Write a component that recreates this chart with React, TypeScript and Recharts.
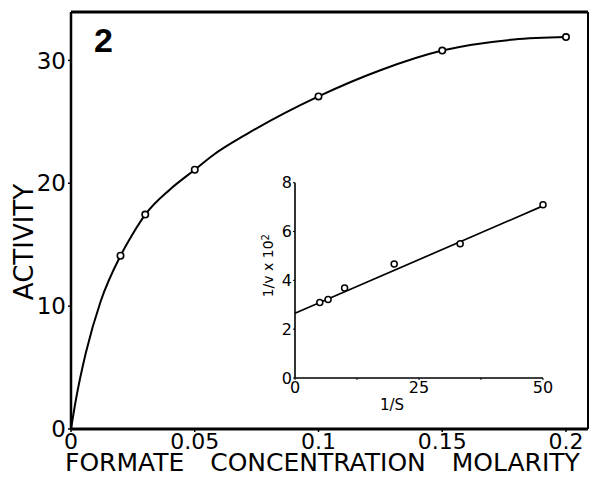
import React from 'react';
import {ComposedChart, Label, Line, ReferenceLine, Scatter, XAxis, YAxis} from 'recharts';

// main plot: activity vs formate concentration
const concentration = [0.02, 0.03, 0.05, 0.1, 0.15, 0.2];
const activity = [14.1, 17.45, 21.1, 27.07, 30.8, 31.9];

// the hand drawn curve
const curveX = [0, 0.002, 0.006, 0.012, 0.02, 0.025, 0.03, 0.04, 0.05, 0.0575, 0.071, 0.1, 0.125, 0.15, 0.179, 0.2];
const curveY = [0, 2.4, 6.2, 10.4, 14.1, 15.9, 17.45, 19.5, 21.1, 22.3, 24.0, 27.07, 29.2, 30.8, 31.7, 31.9];

const mainXTicks = [0, 0.05, 0.1, 0.15, 0.2];
const mainYTicks = [0, 10, 20, 30];

// inset: double reciprocal plot
const inverseS = [5, 6.67, 10, 20, 33.3, 50];
const inverseV = [3.09, 3.22, 3.69, 4.67, 5.5, 7.1];
const fitX = [0, 50];
const fitY = [2.65, 7.05];

const insetXTicks = [0, 12.5, 25, 37.5, 50];
const insetYTicks = [0, 2, 4, 6, 8];

const X_MAX = 0.2089;
const Y_MAX = 33.94;

const font = '"DejaVu Sans", sans-serif';

const points = concentration.map((x, i) => ({x, y: activity[i]}));
const curve = curveX.map((x, i) => ({x, y: curveY[i]}));
const insetPoints = inverseS.map((x, i) => ({x, y: inverseV[i]}));
const fit = fitX.map((x, i) => ({x, y: fitY[i]}));

const OpenCircle = (r: number, w: number) => (props: any) => (
    <circle cx={props.cx} cy={props.cy} r={r} fill="#fff" stroke="#000" strokeWidth={w}/>
);

const MainXLabel = (props: any) => {
    const vb = props.viewBox;
    return (
        <text x={vb.x - 6} y={vb.y + 42} fontSize={25} fontFamily={font} fill="#000" wordSpacing={18}>
            FORMATE CONCENTRATION MOLARITY
        </text>
    );
};

const MainYLabel = (props: any) => {
    const vb = props.viewBox;
    const x = vb.x + 33;
    const y = vb.y + 230;
    return (
        <text x={x} y={y} transform={`rotate(-90 ${x} ${y})`} textAnchor="middle" fontSize={26}
              fontFamily={font} fill="#000">
            ACTIVITY
        </text>
    );
};

const InsetXLabel = (props: any) => {
    const vb = props.viewBox;
    return (
        <text x={vb.x + 97} y={vb.y + 32} textAnchor="middle" fontSize={15} fontFamily={font} fill="#000">
            1/S
        </text>
    );
};

const InsetYLabel = (props: any) => {
    const vb = props.viewBox;
    const x = vb.x + 43;
    const y = vb.y + 83;
    return (
        <text x={x} y={y} transform={`rotate(-90 ${x} ${y})`} textAnchor="middle" fontSize={14}
              fontFamily={font} fill="#000">
            1/v x 10<tspan dy={-4} fontSize={10}>2</tspan>
        </text>
    );
};

const App: React.FC = () => {
    return (
        <div style={{position: 'absolute', left: 0, top: 0, width: 590, height: 477, background: '#fff'}}>
            <ComposedChart width={590} height={477} margin={{top: 12, right: 2, bottom: 0, left: 0}}>
                <XAxis type="number" dataKey="x" domain={[0, X_MAX]} ticks={mainXTicks}
                       tickFormatter={(v: number) => String(v)} height={48}
                       axisLine={{stroke: '#000', strokeWidth: 3}} tickLine={{stroke: '#000', strokeWidth: 1.5}}
                       tickSize={3} tickMargin={1} tick={{fill: '#000', fontSize: 22, fontFamily: font}}>
                    <Label content={MainXLabel}/>
                </XAxis>
                <YAxis type="number" dataKey="y" domain={[0, Y_MAX]} ticks={mainYTicks}
                       width={71} axisLine={{stroke: '#000', strokeWidth: 2.5}}
                       tickLine={{stroke: '#000', strokeWidth: 1.5}} tickSize={3} tickMargin={2}
                       tick={{fill: '#000', fontSize: 23, fontFamily: font}}>
                    <Label content={MainYLabel}/>
                </YAxis>
                <ReferenceLine y={Y_MAX} stroke="#000" strokeWidth={3}/>
                <ReferenceLine x={X_MAX} stroke="#000" strokeWidth={2}/>
                <Line data={curve} dataKey="y" type="monotone" stroke="#000" strokeWidth={2} dot={false}
                      isAnimationActive={false}/>
                <Scatter data={points} dataKey="y" shape={OpenCircle(3.2, 1.6)} isAnimationActive={false}/>
            </ComposedChart>

            <svg width={590} height={477} style={{position: 'absolute', left: 0, top: 0, pointerEvents: 'none'}}>
                <text x={94} y={51.5} fontSize={34} fontWeight="bold" fontFamily='"Liberation Sans", sans-serif'
                      fill="#000">2</text>
            </svg>

            <div style={{position: 'absolute', left: 230, top: 170}}>
                <ComposedChart width={330} height={250} margin={{top: 12.7, right: 17, bottom: 0, left: 0}}>
                    <XAxis type="number" dataKey="x" domain={[0, 50]} ticks={insetXTicks}
                           tickFormatter={(v: number) => (v % 25 === 0 ? String(v) : '')} height={42}
                           axisLine={{stroke: '#000', strokeWidth: 1.6}} tickLine={{stroke: '#000'}}
                           tickSize={2} tickMargin={2} tick={{fill: '#000', fontSize: 16, fontFamily: font}}>
                        <Label content={InsetXLabel}/>
                    </XAxis>
                    <YAxis type="number" dataKey="y" domain={[0, 8]} ticks={insetYTicks}
                           width={65} axisLine={{stroke: '#000', strokeWidth: 1.6}} tickLine={{stroke: '#000'}}
                           tickSize={2} tickMargin={1} tick={{fill: '#000', fontSize: 16, fontFamily: font}}>
                        <Label content={InsetYLabel}/>
                    </YAxis>
                    <Line data={fit} dataKey="y" type="linear" stroke="#000" strokeWidth={1.7} dot={false}
                          isAnimationActive={false}/>
                    <Scatter data={insetPoints} dataKey="y" shape={OpenCircle(3, 1.5)} isAnimationActive={false}/>
                </ComposedChart>
            </div>
        </div>
    );
};

export default App;
